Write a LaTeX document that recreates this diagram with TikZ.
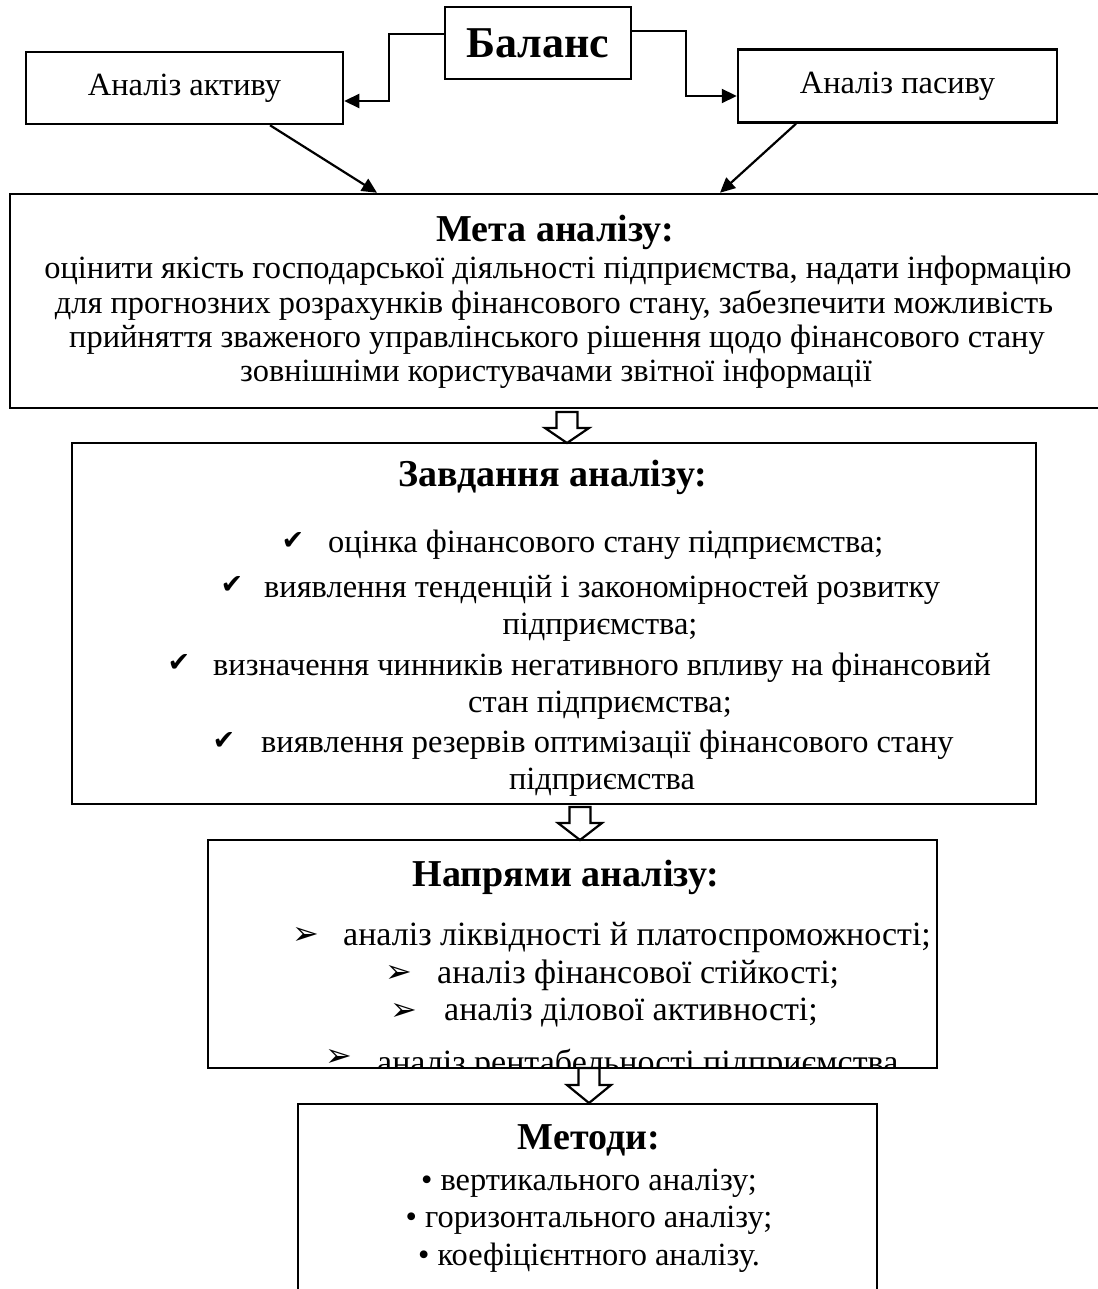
\documentclass[tikz,border=0pt]{standalone}
\usepackage{fontspec}
\setmainfont{Liberation Serif}
\newfontfamily\symfont{DejaVu Sans}
\usetikzlibrary{arrows.meta,calc}
\begin{document}
\begin{tikzpicture}[x=1pt,y=-1pt,
  box/.style={draw, line width=2.5pt, inner sep=0pt},
  txt/.style={inner sep=0pt, font=\fontsize{32.4}{36}\selectfont},
  txtb/.style={inner sep=0pt, font=\fontsize{34}{38}\selectfont},
  ttl/.style={inner sep=0pt, font=\fontsize{38}{42}\selectfont\bfseries},
  conn/.style={line width=2.2pt, -{Triangle[length=15pt,width=14pt]}},
  hollow/.style={line width=2.2pt, fill=white, draw, line join=miter},
  chk/.style={inner sep=0pt, font=\symfont\fontsize{27}{30}\selectfont},
  arw/.style={inner sep=0pt, font=\symfont\fontsize{32}{34}\selectfont}]
\useasboundingbox (0,0) rectangle (1097,1289);
\fill[white] (0,0) rectangle (1097,1289);

% top boxes
\node[box, minimum width=186pt, minimum height=72pt, font=\fontsize{44}{48}\selectfont\bfseries] (balans) at (538,43) {Баланс};
\node[box, minimum width=317pt, minimum height=72pt, txt] (aktiv) at (184.5,88) {Аналіз активу};
\node[box, minimum width=319pt, minimum height=73pt, txt] (pasyv) at (897.5,86) {Аналіз пасиву};

% main boxes
\node[box, minimum width=1092pt, minimum height=214pt] (meta) at (556,301) {};
\node[box, minimum width=964pt, minimum height=361pt] (zavd) at (554,623.5) {};
\node[box, minimum width=729pt, minimum height=228pt] (napr) at (572.5,954) {};
\node[box, minimum width=579pt, minimum height=200pt] (metody) at (587.5,1204) {};

% connectors
\draw[conn] (balans.west |- 0,34) -- (389,34) -- (389,101) -- (aktiv.east |- 0,101);
\draw[conn] (balans.east |- 0,31) -- (686,31) -- (686,96) -- (pasyv.west |- 0,96);
\draw[conn] (aktiv.south -| 270,0) -- (meta.north -| 377,0);
\draw[conn] (pasyv.south -| 796,0) -- (meta.north -| 720,0);

% hollow arrows between the boxes
\draw[hollow] (556.5,412) -- (577.5,412) -- (577.5,428) -- (589,428) -- (567,443)
  -- (545,428) -- (556.5,428) -- cycle;
\draw[hollow] (569.5,807) -- (590.5,807) -- (590.5,823) -- (602,823) -- (580,840)
  -- (558,823) -- (569.5,823) -- cycle;
\draw[hollow] (578.5,1068) -- (599.5,1068) -- (599.5,1085) -- (611,1085) -- (589,1103)
  -- (567,1085) -- (578.5,1085) -- cycle;

% Meta text
\node[ttl] (metaT) at (555,232) {Мета аналізу:};
\node[txt] (meta1) at (558,271) {оцінити якість господарської діяльності підприємства, надати інформацію};
\node[txt] (meta2) at (554,305) {для прогнозних розрахунків фінансового стану, забезпечити можливість};
\node[txt] (meta3) at (557,340) {прийняття зваженого управлінського рішення щодо фінансового стану};
\node[txt] (meta4) at (556,374) {зовнішніми користувачами звітної інформації};

% Zavdannya text
\node[ttl] (zavdT) at (553,477) {Завдання аналізу:};
\node[chk] (c1) at (293,541) {✔};
\node[txt, anchor=west] (z1) at (328,545) {оцінка фінансового стану підприємства;};
\node[chk] (c2) at (232,585) {✔};
\node[txt, anchor=west] (z2) at (264,590) {виявлення тенденцій і закономірностей розвитку};
\node[txt] (z3) at (600,627) {підприємства;};
\node[chk] (c3) at (179,663) {✔};
\node[txt, anchor=west] (z4) at (213,668) {визначення чинників негативного впливу на фінансовий};
\node[txt] (z5) at (600,705) {стан підприємства;};
\node[chk] (c4) at (224,741) {✔};
\node[txt, anchor=west] (z6) at (261,745) {виявлення резервів оптимізації фінансового стану};
\node[txt] (z7) at (602,782) {підприємства};

% Napryamy text
\node[ttl] (naprT) at (566,877) {Напрями аналізу:};
\node[arw] (a1) at (306,936) {➢};
\node[txtb, anchor=west] (n1) at (343,937) {аналіз ліквідності й платоспроможності;};
\node[arw] (a2) at (399,974) {➢};
\node[txtb, anchor=west] (n2) at (437,975) {аналіз фінансової стійкості;};
\node[arw] (a3) at (404,1012) {➢};
\node[txtb, anchor=west] (n3) at (444,1013) {аналіз ділової активності;};
\begin{scope}
  \clip (200,1030) rectangle (940,1067);
  \node[arw] (a4) at (339,1058) {➢};
  \node[txtb, anchor=base west] (n4) at (377,1073) {аналіз рентабельності підприємства};
\end{scope}

% Metody text
\node[ttl] (metodyT) at (589,1140) {Методи:};
\node[txt] (m1) at (589,1183) {• вертикального аналізу;};
\node[txt] (m2) at (589,1220) {• горизонтального аналізу;};
\node[txt] (m3) at (589,1258) {• коефіцієнтного аналізу.};
\end{tikzpicture}
\end{document}
